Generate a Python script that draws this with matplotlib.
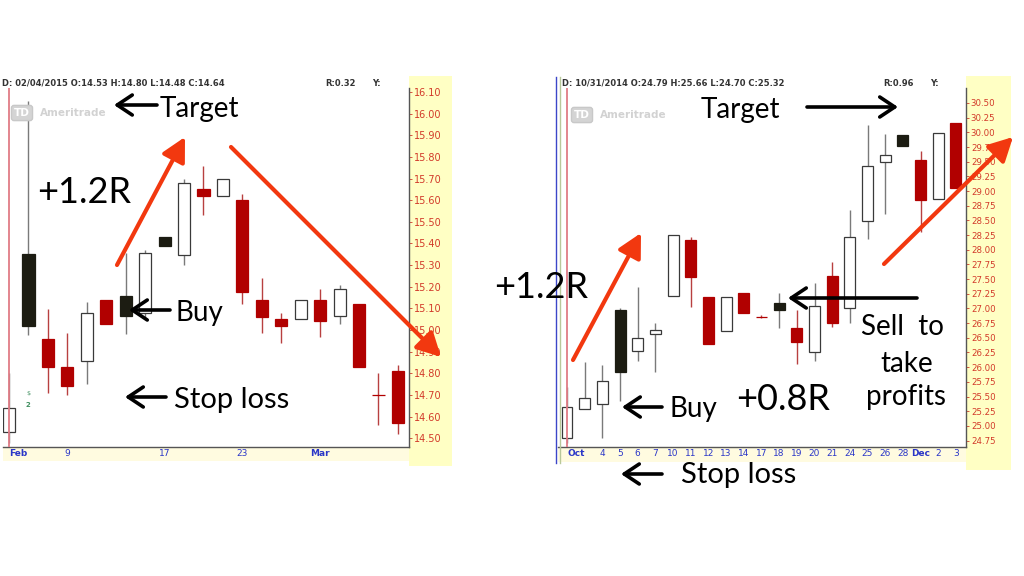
import matplotlib
matplotlib.use('Agg')
import matplotlib.pyplot as plt
from matplotlib.patches import Rectangle

# ---------------- data: left chart (Feb 4 2015 - Mar 5 2015) ----------------
left_dates = ['02/04/2015', '02/05', '02/06', '02/09', '02/10', '02/11', '02/12', '02/13',
              '02/17', '02/18', '02/19', '02/20', '02/23', '02/24', '02/25', '02/26',
              '02/27', '03/02', '03/03', '03/04', '03/05']
left_open = [14.53, 15.35, 14.96, 14.83, 14.855, 15.14, 15.155, 15.08, 15.43, 15.345, 15.65,
             15.62, 15.60, 15.14, 15.05, 15.05, 15.137, 15.065, 15.12, 14.702, 14.81]
left_high = [14.80, 16.06, 15.095, 14.985, 15.13, 15.14, 15.355, 15.37, 15.43, 15.70, 15.757,
             15.70, 15.63, 15.24, 15.08, 15.14, 15.19, 15.21, 15.12, 14.80, 14.84]
left_low = [14.48, 14.975, 14.71, 14.70, 14.75, 15.03, 14.98, 15.06, 15.39, 15.30, 15.53,
            15.62, 15.12, 14.985, 14.94, 15.05, 14.97, 15.03, 14.83, 14.56, 14.52]
left_close = [14.64, 15.02, 14.83, 14.74, 15.08, 15.03, 15.065, 15.355, 15.39, 15.68, 15.62,
              15.70, 15.175, 15.06, 15.02, 15.14, 15.04, 15.19, 14.83, 14.70, 14.57]
left_tick_idx = [0, 3, 8, 12, 16]
left_tick_lbl = ['Feb', '9', '17', '23', 'Mar']
left_price_ticks = [14.50, 14.60, 14.70, 14.80, 14.90, 15.00, 15.10, 15.20, 15.30, 15.40,
                    15.50, 15.60, 15.70, 15.80, 15.90, 16.00, 16.10]
left_R = 'R:0.32'

# ---------------- data: right chart (Oct 31 2014 - Dec 3 2014) ----------------
right_dates = ['10/31/2014', '11/03', '11/04', '11/05', '11/06', '11/07', '11/10', '11/11',
               '11/12', '11/13', '11/14', '11/17', '11/18', '11/19', '11/20', '11/21',
               '11/24', '11/25', '11/26', '11/28', '12/01', '12/02', '12/03']
right_open = [24.79, 25.28, 25.38, 26.98, 26.27, 26.56, 27.22, 28.16, 27.19, 26.61, 27.26,
              26.86, 27.10, 26.66, 26.25, 27.55, 27.00, 28.49, 29.49, 29.95, 29.53, 28.86, 30.16]
right_high = [25.66, 26.08, 26.03, 27.00, 27.36, 26.75, 28.25, 28.21, 27.19, 27.19, 27.26,
              26.88, 27.26, 26.97, 27.43, 27.79, 28.67, 30.12, 29.97, 29.95, 29.68, 29.99, 30.16]
right_low = [24.70, 25.28, 24.80, 25.43, 26.10, 25.91, 27.22, 27.02, 26.39, 26.61, 26.93,
             26.84, 26.66, 26.06, 26.11, 26.68, 26.75, 28.18, 28.61, 29.77, 28.30, 28.86, 29.05]
right_close = [25.32, 25.47, 25.77, 25.91, 26.49, 26.63, 28.25, 27.53, 26.39, 27.19, 26.93,
               26.85, 26.97, 26.42, 27.05, 26.75, 28.21, 29.42, 29.61, 29.77, 28.84, 29.99, 29.05]
right_tick_idx = [0, 2, 3, 4, 5, 6, 7, 8, 9, 10, 11, 12, 13, 14, 15, 16, 17, 18, 19, 20, 21, 22]
right_tick_lbl = ['Oct', '4', '5', '6', '7', '10', '11', '12', '13', '14', '17', '18', '19',
                  '20', '21', '24', '25', '26', '28', 'Dec', '2', '3']
right_price_ticks = [24.75, 25.00, 25.25, 25.50, 25.75, 26.00, 26.25, 26.50, 26.75, 27.00,
                     27.25, 27.50, 27.75, 28.00, 28.25, 28.50, 28.75, 29.00, 29.25, 29.50,
                     29.75, 30.00, 30.25, 30.50]
right_R = 'R:0.96'

# ---------------- styles ----------------
RED_BODY = '#b10000'
RED_WICK = '#b84040'
BLK_BODY = '#1c1c12'
HOLLOW_EDGE = '#3a3a3a'
GRAY_WICK = '#7a7a7a'
TICK_RED = '#d23a2a'
DATE_BLUE = '#2a36c8'
STRIP_YEL = '#ffffc4'
DATE_YEL = '#fffbe0'
ARROW_RED = '#f2380f'
ANNOT_FONT = ['Lato', 'DejaVu Sans']

W, H = 1024, 576
fig = plt.figure(figsize=(W / 100, H / 100), dpi=100)
fig.patch.set_facecolor('white')


def rect(x0, y0, x1, y1):
    return [x0 / W, 1 - y1 / H, (x1 - x0) / W, (y1 - y0) / H]


def fig_box(x0, y0, x1, y1, color):
    fig.add_artist(Rectangle((x0 / W, 1 - y1 / H), (x1 - x0) / W, (y1 - y0) / H,
                             transform=fig.transFigure, fc=color, ec='none', zorder=-5))


def draw_candles(ax, o, h, l, c, width):
    for i in range(len(o)):
        filled = c[i] < o[i]
        red = i > 0 and c[i] < c[i - 1]
        lo, hi = min(o[i], c[i]), max(o[i], c[i])
        if red:
            face, edge, wick = RED_BODY, RED_BODY, RED_WICK
        elif filled:
            face, edge, wick = BLK_BODY, BLK_BODY, GRAY_WICK
        else:
            face, edge, wick = 'white', HOLLOW_EDGE, GRAY_WICK
        if h[i] > hi:
            ax.vlines(i, hi, h[i], color=wick, lw=1.0, zorder=2)
        if l[i] < lo:
            ax.vlines(i, l[i], lo, color=wick, lw=1.0, zorder=2)
        ax.add_patch(Rectangle((i - width / 2, lo), width, hi - lo, fc=face, ec=edge,
                               lw=0.9, zorder=3))


def setup_axes(ax, xlim, ylim, yticks, fmt, tick_fs, tick_idx, tick_lbl, first_off):
    ax.set_xlim(*xlim)
    ax.set_ylim(*ylim)
    for s in ['top', 'left']:
        ax.spines[s].set_visible(False)
    for s in ['right', 'bottom']:
        ax.spines[s].set_color('#555555')
        ax.spines[s].set_linewidth(1.0)
    ax.yaxis.tick_right()
    ax.set_yticks(yticks)
    ax.set_yticklabels([fmt % v for v in yticks])
    ax.tick_params(axis='y', length=2, width=0.6, color=TICK_RED, labelcolor=TICK_RED,
                   labelsize=tick_fs, pad=1.5)
    pos = [p + (first_off if p == 0 else 0) for p in tick_idx]
    ax.set_xticks(pos)
    ax.set_xticklabels(tick_lbl)
    ax.tick_params(axis='x', length=0, labelcolor=DATE_BLUE, labelsize=6.5, pad=1.5)
    for t in ax.get_xticklabels():
        if not t.get_text().isdigit():
            t.set_fontweight('bold')
    ax.set_facecolor('white')


# background strips (price axis and date axis)
fig_box(409, 76, 452, 466, STRIP_YEL)
fig_box(966, 76, 1011, 470, STRIP_YEL)
fig_box(3, 448, 409, 461, DATE_YEL)
fig_box(558, 448, 966, 462, DATE_YEL)

# ---------------- left chart ----------------
axL = fig.add_axes(rect(3, 88, 409, 447))
setup_axes(axL, (-0.31, 20.57), (14.4595, 16.1185), left_price_ticks, '%.2f', 7,
           left_tick_idx, left_tick_lbl, 0.46)
draw_candles(axL, left_open, left_high, left_low, left_close, 0.62)
axL.axvline(0, color='#e07c86', lw=1.3, zorder=4)

# ---------------- right chart ----------------
axR = fig.add_axes(rect(558, 88, 966, 447))
setup_axes(axR, (-0.51, 22.57), (24.6397, 30.7555), right_price_ticks, '%.2f', 6.2,
           right_tick_idx, right_tick_lbl, 0.5)
draw_candles(axR, right_open, right_high, right_low, right_close, 0.62)
axR.axvline(0, color='#e07c86', lw=1.3, zorder=4)

# ---------------- overlay (pixel coordinates) ----------------
ov = fig.add_axes([0, 0, 1, 1], zorder=10)
ov.set_xlim(0, W)
ov.set_ylim(H, 0)
ov.axis('off')
ov.patch.set_alpha(0)

# frame lines of the right screenshot
ov.plot([556, 556], [77, 463], color='#3c46c8', lw=1.0)
ov.plot([559.5, 559.5], [77, 463], color='#b8c89a', lw=1.0)

# header lines
hdr = dict(fontsize=6, fontweight='bold', color='#333333', va='center', ha='left',
           family='DejaVu Sans')
ov.text(2, 83, 'D: %s O:%.2f H:%.2f L:%.2f C:%.2f' % (left_dates[0], left_open[0], left_high[0],
                                                     left_low[0], left_close[0]), **hdr)
ov.text(325, 83, left_R, **hdr)
ov.text(372, 83, 'Y:', **hdr)
ov.text(562, 83, 'D: %s O:%.2f H:%.2f L:%.2f C:%.2f' % (right_dates[0], right_open[0],
                                                       right_high[0], right_low[0],
                                                       right_close[0]), **hdr)
ov.text(883, 83, right_R, **hdr)
ov.text(930, 83, 'Y:', **hdr)

# watermarks
for bx, tx, ty in [(22, 40, 113), (582, 600, 115)]:
    ov.text(bx, ty, 'TD', fontsize=7.5, fontweight='bold', color='white', ha='center',
            va='center', bbox=dict(boxstyle='round,pad=0.25', fc='#d4d4d4', ec='#c8c8c8'))
    ov.text(tx, ty, 'Ameritrade', fontsize=7.5, fontweight='bold', color='#d2d2d2',
            ha='left', va='center')

# dividend marker
ov.text(28, 394, '$', fontsize=4.5, color='#3f8f5f', ha='center', va='center')
ov.text(28, 405, '2', fontsize=5, fontweight='bold', color='#3f8f5f', ha='center', va='center')


def txt(x, y, s, size):
    ov.text(x, y, s, fontsize=size, family=ANNOT_FONT, color='black', ha='left', va='baseline')


def black_arrow(x0, y0, x1, y1):
    ov.annotate('', xy=(x1, y1), xytext=(x0, y0),
                arrowprops=dict(arrowstyle='->,head_length=0.6,head_width=0.4', color='black',
                                lw=2.6, mutation_scale=18, shrinkA=0, shrinkB=0))


def red_arrow(x0, y0, x1, y1):
    ov.annotate('', xy=(x1, y1), xytext=(x0, y0),
                arrowprops=dict(arrowstyle='-|>,head_length=0.8,head_width=0.42', color=ARROW_RED,
                                lw=3.0, mutation_scale=18, shrinkA=0, shrinkB=0))


# left annotations
txt(160, 117, 'Target', 20)
black_arrow(157, 105, 114, 105)
txt(37, 203, '+1.2R', 26)
red_arrow(117, 265, 185, 137)
red_arrow(231, 147, 441, 357)
txt(175, 321, 'Buy', 20)
black_arrow(170, 310, 129, 310)
txt(174, 408, 'Stop loss', 21)
black_arrow(166, 397, 125, 397)

# right annotations
txt(701, 118, 'Target', 20)
black_arrow(807, 107, 898, 107)
txt(494, 298, '+1.2R', 26)
red_arrow(573, 360, 641, 233)
txt(669, 417, 'Buy', 20)
black_arrow(662, 407, 622, 407)
txt(736, 410, '+0.8R', 26)
txt(861, 335, 'Sell  to', 20)
txt(880, 372, 'take', 20)
txt(866, 405, 'profits', 20)
black_arrow(917, 298, 788, 298)
red_arrow(884, 264, 1013, 137)
txt(681, 483, 'Stop loss', 21)
black_arrow(662, 474, 621, 474)

fig.savefig('out.png', dpi=100, facecolor='white')
